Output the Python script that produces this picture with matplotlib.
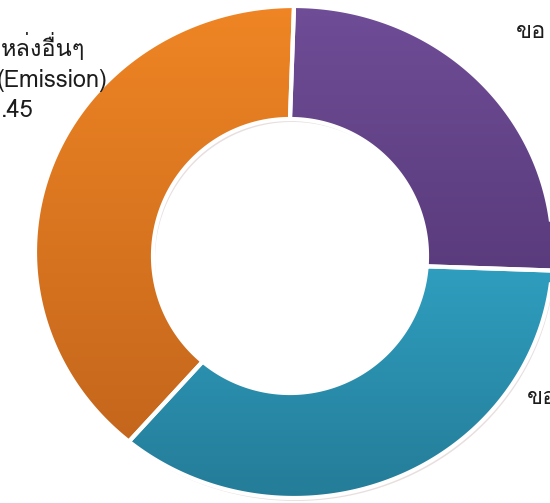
import numpy as np
import matplotlib
matplotlib.use("Agg")
import matplotlib.pyplot as plt
from matplotlib import font_manager as fm
from matplotlib.ft2font import FT2Font
from matplotlib.patches import Polygon
from matplotlib.colors import LinearSegmentedColormap

# ---- data ----
categories = ["ของ (purple)", "ของ (blue)", "แหล่งอื่นๆ (Emission)"]
shares = [0.262, 0.348, 0.390]
top_colors = ["#6F4D97", "#2F9EBF", "#EF8524"]
bottom_colors = ["#5A3B7C", "#247C98", "#C4661C"]
label_left = ["หล่งอื่นๆ", "(Emission)", ".45"]
label_right_top = "ขอ"
label_right_bottom = "ขอ"

# ---- find a font with Thai glyphs ----
thai_font = None
for f in fm.fontManager.ttflist:
    try:
        cm = FT2Font(f.fname).get_charmap()
        if 0x0E2B in cm and 0x0E48 in cm:
            thai_font = f.name
            break
    except Exception:
        pass
families = ([thai_font] if thai_font else []) + ["DejaVu Sans"]
plt.rcParams["font.family"] = families

W, H = 550, 503
fig = plt.figure(figsize=(W / 100, H / 100), dpi=100)
ax = fig.add_axes([0, 0, 1, 1])
ax.set_xlim(0, W)
ax.set_ylim(H, 0)
ax.axis("off")

# ring geometry (pixel units, y downward)
ocx, ocy, orx, ory = 294, 252, 259, 246
icx, icy, ir = 290, 256, 137

# angles measured clockwise from 12 o'clock
bounds = np.concatenate([[0], np.cumsum(shares)]) * 2 * np.pi

def ring_poly(a0, a1, dx=0, dy=0):
    t = np.linspace(a0, a1, 200)
    ox = ocx + dx + orx * np.sin(t)
    oy = ocy + dy - ory * np.cos(t)
    ix = icx + dx + ir * np.sin(t[::-1])
    iy = icy + dy - ir * np.cos(t[::-1])
    return np.column_stack([np.concatenate([ox, ix]), np.concatenate([oy, iy])])

# faint shadow
for a0, a1 in zip(bounds[:-1], bounds[1:]):
    ax.add_patch(Polygon(ring_poly(a0, a1, 2, 3), closed=True, facecolor="#d9c9c9",
                         edgecolor="none", alpha=0.6, zorder=1))

for a0, a1, ct, cb in zip(bounds[:-1], bounds[1:], top_colors, bottom_colors):
    v = ring_poly(a0, a1)
    poly = Polygon(v, closed=True, facecolor=ct, edgecolor="none", zorder=2)
    ax.add_patch(poly)
    x0, x1 = v[:, 0].min(), v[:, 0].max()
    y0, y1 = v[:, 1].min(), v[:, 1].max()
    cmap = LinearSegmentedColormap.from_list("g", [ct, cb])
    grad = np.linspace(0, 1, 256).reshape(-1, 1)
    im = ax.imshow(grad, extent=[x0, x1, y1, y0], cmap=cmap,
                   aspect="auto", zorder=2.5, interpolation="bilinear")
    im.set_clip_path(poly)
    ax.add_patch(Polygon(v, closed=True, facecolor="none", edgecolor="white",
                         linewidth=3, zorder=3))

ax.set_xlim(0, W)
ax.set_ylim(H, 0)

fs = 17
tc = "#1c1c1c"
ax.text(1, 47, label_left[0], fontsize=fs, va="center", ha="left", color=tc, zorder=5)
ax.text(-3, 80, label_left[1], fontsize=fs, va="center", ha="left", color=tc, zorder=5)
ax.text(1, 110, label_left[2], fontsize=fs, va="center", ha="left", color=tc, zorder=5)
ax.text(516, 31, label_right_top, fontsize=fs, va="center", ha="left", color=tc, zorder=5)
ax.text(527, 397, label_right_bottom, fontsize=fs, va="center", ha="left", color=tc, zorder=5)

fig.savefig("out.png", dpi=100)
